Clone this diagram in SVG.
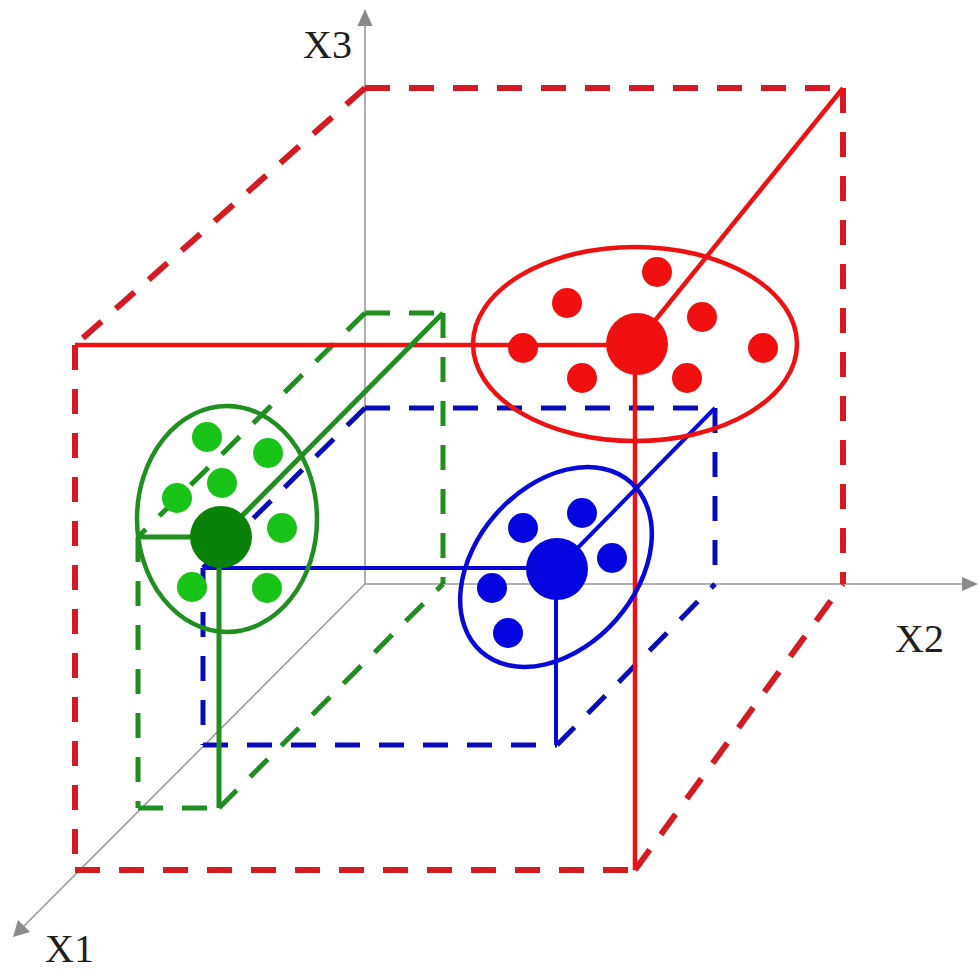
<svg xmlns="http://www.w3.org/2000/svg" width="978" height="971" viewBox="0 0 978 971">
<style>
.axis{stroke:#9a9a9a;stroke-width:1.6;fill:none}
.arrow{fill:#8a8a8a}
.lbl{font-family:"Liberation Serif","Times New Roman",serif;font-size:40px;fill:#1e1e1e}
.rd{stroke:#d41a22;stroke-width:6;stroke-dasharray:25 19;fill:none}
.gd{stroke:#1f8f1f;stroke-width:5;stroke-dasharray:25 19;fill:none}
.bd{stroke:#0a0ab8;stroke-width:5;stroke-dasharray:25 19;fill:none}
.rs{stroke:#ee1111;stroke-width:4.5;fill:none}
.gs{stroke:#1f8f1f;stroke-width:5;fill:none}
.bs{stroke:#0808d8;stroke-width:4;fill:none}
.rdot{fill:#f01010}
.gdot{fill:#17c417}
.bdot{fill:#0505e0}
</style>
<rect width="978" height="971" fill="#ffffff"/>
<g id="axes">
  <line class="axis" x1="365" y1="584" x2="365" y2="20"/>
  <polygon class="arrow" points="365,9 357.5,26 372.5,26"/>
  <line class="axis" x1="365" y1="584" x2="966" y2="584"/>
  <polygon class="arrow" points="978,584 962,577 962,591"/>
  <line class="axis" x1="365" y1="584" x2="22" y2="928"/>
  <polygon class="arrow" points="13,937 18,920 30,932"/>
</g>
<g id="labels">
  <text class="lbl" x="303" y="58">X3</text>
  <text class="lbl" x="895" y="652">X2</text>
  <text class="lbl" x="45" y="962">X1</text>
</g>
<g id="connectors">
  <g id="red-box">
    <line class="rd" x1="75" y1="345" x2="75" y2="870"/>
    <line class="rd" x1="75" y1="870" x2="635" y2="870"/>
    <line class="rd" x1="635" y1="870" x2="843" y2="584"/>
    <line class="rd" x1="843" y1="88" x2="843" y2="584"/>
    <line class="rd" x1="365" y1="88" x2="843" y2="88"/>
    <line class="rd" x1="365" y1="88" x2="75" y2="345"/>
  </g>
  <g id="blue-box">
    <line class="bd" x1="203" y1="568" x2="203" y2="745"/>
    <line class="bd" x1="203" y1="745" x2="557" y2="745"/>
    <line class="bd" x1="557" y1="745" x2="715" y2="584"/>
    <line class="bd" x1="715" y1="408" x2="715" y2="584"/>
    <line class="bd" x1="365" y1="408" x2="715" y2="408"/>
    <line class="bd" x1="365" y1="408" x2="203" y2="568"/>
  </g>
  <g id="green-box">
    <line class="gd" x1="138" y1="537" x2="138" y2="808"/>
    <line class="gd" x1="138" y1="808" x2="219" y2="808"/>
    <line class="gd" x1="219" y1="808" x2="443" y2="584"/>
    <line class="gd" x1="443" y1="313" x2="443" y2="584"/>
    <line class="gd" x1="365" y1="313" x2="443" y2="313"/>
    <line class="gd" x1="365" y1="313" x2="138" y2="537"/>
  </g>
  <g id="red-projections">
    <line class="rs" x1="75" y1="345" x2="636" y2="345"/>
    <line class="rs" x1="635" y1="345" x2="635" y2="870"/>
    <line class="rs" x1="636" y1="344" x2="843" y2="88"/>
  </g>
  <g id="blue-projections">
    <line class="bs" x1="203" y1="568" x2="557" y2="568"/>
    <line class="bs" x1="556" y1="569" x2="556" y2="745"/>
    <line class="bs" x1="557" y1="569" x2="715" y2="408"/>
  </g>
  <g id="green-projections">
    <line class="gs" x1="138" y1="537" x2="221" y2="537"/>
    <line class="gs" x1="219" y1="537" x2="219" y2="808"/>
    <line class="gs" x1="221" y1="537" x2="443" y2="313"/>
  </g>
</g>
<g id="red-cluster">
  <ellipse cx="635" cy="344" rx="162" ry="97" fill="none" stroke="#ee1111" stroke-width="4.5"/>
  <circle class="rdot" cx="657" cy="272" r="15"/>
  <circle class="rdot" cx="567" cy="303" r="15"/>
  <circle class="rdot" cx="702" cy="317" r="15"/>
  <circle class="rdot" cx="523" cy="348" r="15"/>
  <circle class="rdot" cx="763" cy="348" r="15"/>
  <circle class="rdot" cx="582" cy="378" r="15"/>
  <circle class="rdot" cx="687" cy="378" r="15"/>
  <circle class="rdot" cx="637" cy="344" r="31"/>
</g>
<g id="blue-cluster">
  <ellipse cx="556" cy="567" rx="113" ry="80" transform="rotate(-48.6 556 567)" fill="none" stroke="#0808d8" stroke-width="4.5"/>
  <circle class="bdot" cx="523" cy="528" r="15"/>
  <circle class="bdot" cx="582" cy="513" r="15"/>
  <circle class="bdot" cx="612" cy="558" r="15"/>
  <circle class="bdot" cx="492" cy="588" r="15"/>
  <circle class="bdot" cx="508" cy="633" r="15"/>
  <circle class="bdot" cx="557" cy="569" r="31"/>
</g>
<g id="green-cluster">
  <ellipse cx="227" cy="519" rx="90" ry="113" fill="none" stroke="#1f8f1f" stroke-width="4.5"/>
  <circle class="gdot" cx="207" cy="437" r="15"/>
  <circle class="gdot" cx="268" cy="453" r="15"/>
  <circle class="gdot" cx="222" cy="483" r="15"/>
  <circle class="gdot" cx="177" cy="498" r="15"/>
  <circle class="gdot" cx="282" cy="528" r="15"/>
  <circle class="gdot" cx="192" cy="587" r="15"/>
  <circle class="gdot" cx="267" cy="588" r="15"/>
  <circle cx="221" cy="537" r="31" fill="#0a820a"/>
</g>
</svg>
